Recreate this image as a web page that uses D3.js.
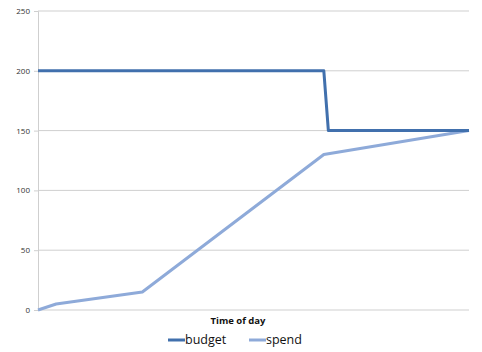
<!DOCTYPE html>
<html>
<head>
<meta charset="utf-8">
<script src="https://cdn.jsdelivr.net/npm/d3@7"></script>
<style>
	body { margin: 0; background: #fff; }
	text { font-family: 'Open Sans', 'Noto Sans', sans-serif; }
</style>
</head>
<body>
<div id="chart"></div>
<script>
// Time of day (hours) and values at each vertex
const budgetTimes = [0, 15.75, 16, 23.75];
const budgetValues = [200, 200, 150, 150];
const spendTimes = [0, 1, 5.75, 15.75, 23.75];
const spendValues = [0, 5, 15, 130, 150];
const yTicks = [0, 50, 100, 150, 200, 250];
const seriesNames = ['budget', 'spend'];
const seriesColors = ['#4170ad', '#8eaad9'];

const width = 482, height = 352;
const margin = { top: 11, right: 13, bottom: 42, left: 38 };

const svg = d3.select('#chart')
	.append('svg')
	.attr('width', width)
	.attr('height', height);

const x = d3.scaleLinear()
	.domain([0, 23.75])
	.range([margin.left, width - margin.right]);

const y = d3.scaleLinear()
	.domain([0, 250])
	.range([height - margin.bottom, margin.top]);

// Gridlines
svg.append('g')
	.selectAll('line')
	.data(yTicks)
	.enter()
	.append('line')
	.attr('x1', margin.left)
	.attr('x2', width - margin.right)
	.attr('y1', (d) => y(d))
	.attr('y2', (d) => y(d))
	.attr('stroke', '#cfcfcf')
	.attr('stroke-width', 1);

// Y axis
const yAxis = svg.append('g')
	.attr('transform', `translate(${margin.left},0)`)
	.call(d3.axisLeft(y).tickValues(yTicks).tickSize(4).tickPadding(4));
yAxis.select('.domain').attr('stroke', '#cfcfcf');
yAxis.selectAll('.tick line').attr('stroke', '#cfcfcf');
yAxis.selectAll('.tick text')
	.attr('fill', '#333')
	.style('font-size', '8px');

// Lines
const line = d3.line()
	.x((d) => x(d[0]))
	.y((d) => y(d[1]));

const series = [
	d3.zip(budgetTimes, budgetValues),
	d3.zip(spendTimes, spendValues),
];

svg.selectAll('path.series')
	.data(series)
	.enter()
	.append('path')
	.attr('class', 'series')
	.attr('d', line)
	.attr('fill', 'none')
	.attr('stroke', (d, i) => seriesColors[i])
	.attr('stroke-width', 3)
	.attr('stroke-linejoin', 'round');

// Bring budget to front
svg.selectAll('path.series').filter((d, i) => i === 0).raise();

// X axis title
svg.append('text')
	.attr('x', 238)
	.attr('y', 324)
	.attr('text-anchor', 'middle')
	.style('font-size', '9.5px')
	.style('font-weight', 'bold')
	.attr('fill', '#111')
	.text('Time of day');

// Legend
const legendX = [168, 249];
const legend = svg.selectAll('g.legend')
	.data(seriesNames)
	.enter()
	.append('g')
	.attr('class', 'legend')
	.attr('transform', (d, i) => `translate(${legendX[i]},340)`);

legend.append('line')
	.attr('x1', 0)
	.attr('x2', 17)
	.attr('stroke', (d, i) => seriesColors[i])
	.attr('stroke-width', 3);

legend.append('text')
	.attr('x', 17)
	.attr('y', 4)
	.style('font-size', '12.5px')
	.attr('fill', '#111')
	.text((d) => d);
</script>
</body>
</html>
